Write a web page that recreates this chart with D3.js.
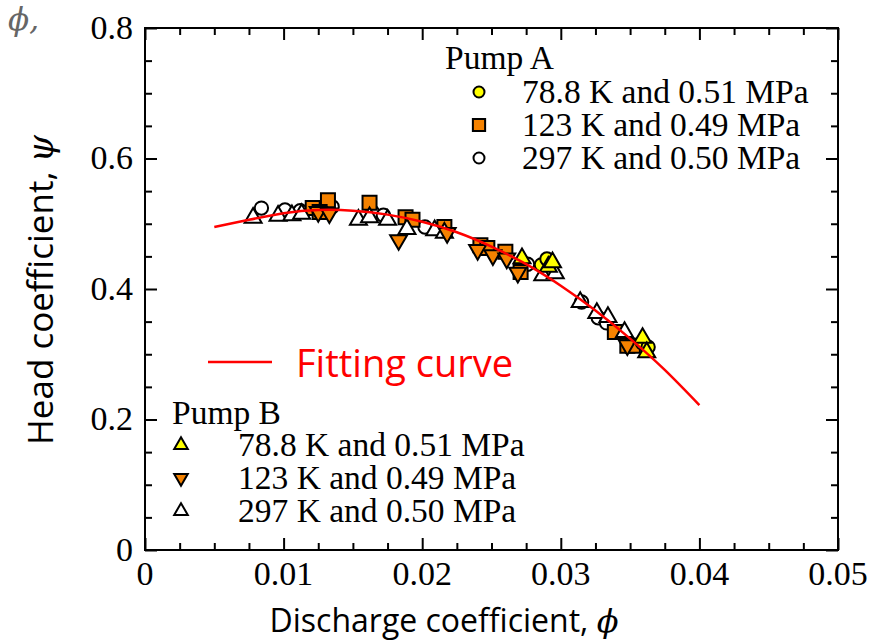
<!DOCTYPE html>
<html>
<head>
<meta charset="utf-8">
<script src="https://cdn.jsdelivr.net/npm/d3@7"></script>
<style>
  body { margin: 0; background: #fff; }
  .tick-label { font-family: "Liberation Serif", "DejaVu Serif", serif; font-size: 34px; fill: #000; }
  .legend-text { font-family: "Liberation Serif", "DejaVu Serif", serif; font-size: 33.5px; fill: #000; }
  .axis-title { font-family: "Open Sans", "Noto Sans", sans-serif; font-size: 32px; fill: #000; }
</style>
</head>
<body>
<div id="chart"></div>
<script>
// fitting curve
var fitPhi = [0.005, 0.0075, 0.01, 0.0125, 0.015, 0.0175, 0.02, 0.0225, 0.025, 0.0275, 0.03, 0.0325, 0.035, 0.0375, 0.04];
var fitPsi = [0.495, 0.506, 0.516, 0.521, 0.520, 0.514, 0.503, 0.487, 0.465, 0.438, 0.405, 0.367, 0.324, 0.276, 0.222];

// Pump A
var a78Phi = [0.0286, 0.0290, 0.0359, 0.0363];
var a78Psi = [0.437, 0.446, 0.317, 0.311];
var a123Phi = [0.0121, 0.0132, 0.0126, 0.0162, 0.0188, 0.0193, 0.0216, 0.0242, 0.0247, 0.0260, 0.0271, 0.0339, 0.0348, 0.0352];
var a123Psi = [0.524, 0.536, 0.518, 0.532, 0.510, 0.506, 0.495, 0.467, 0.463, 0.457, 0.426, 0.334, 0.313, 0.313];
var a297Phi = [0.0084, 0.0101, 0.0112, 0.0135, 0.0164, 0.0172, 0.0202, 0.0276, 0.0315, 0.0327, 0.0333];
var a297Psi = [0.524, 0.521, 0.520, 0.526, 0.518, 0.513, 0.495, 0.438, 0.380, 0.356, 0.348];

// Pump B
var b78Phi = [0.0272, 0.0291, 0.0294, 0.0359, 0.0362];
var b78Psi = [0.447, 0.434, 0.441, 0.325, 0.303];
var b123Phi = [0.0125, 0.0133, 0.0183, 0.0218, 0.0240, 0.0251, 0.0261, 0.0269, 0.0348];
var b123Psi = [0.518, 0.516, 0.475, 0.486, 0.460, 0.452, 0.447, 0.425, 0.314];
var b297Phi = [0.0078, 0.0096, 0.0106, 0.0113, 0.0154, 0.0162, 0.0175, 0.0189, 0.0209, 0.0216, 0.0287, 0.0296, 0.0314, 0.0326, 0.0334, 0.0346];
var b297Psi = [0.509, 0.512, 0.513, 0.515, 0.506, 0.510, 0.506, 0.492, 0.490, 0.486, 0.421, 0.424, 0.380, 0.363, 0.357, 0.334];

var xTicks = [0, 0.01, 0.02, 0.03, 0.04, 0.05];
var yTicks = [0, 0.2, 0.4, 0.6, 0.8];
var legendLabels = ["78.8 K and 0.51 MPa", "123 K and 0.49 MPa", "297 K and 0.50 MPa"];

var W = 892, H = 640;
var margin = {top: 28, right: 54, bottom: 90, left: 145},
    width = W - margin.left - margin.right,
    height = H - margin.top - margin.bottom;

var yellow = "#ffff00", orange = "#f58200";

var svg = d3.select("#chart").append("svg")
    .attr("width", W)
    .attr("height", H);

var g = svg.append("g")
    .attr("transform", "translate(" + margin.left + "," + margin.top + ")");

var x = d3.scaleLinear().domain([0, 0.05]).range([0, width]);
var y = d3.scaleLinear().domain([0, 0.8]).range([height, 0]);

// inward ticks on all four sides
var xMinor = d3.range(0, 0.0501, 0.0025);
var yMinor = d3.range(0, 0.801, 0.05);

g.append("g").attr("transform", "translate(0," + height + ")")
    .call(d3.axisTop(x).tickValues(xMinor).tickSize(0).tickFormat(""))
    .call(function(s) { s.select(".domain").remove(); })
    .selectAll(".tick line")
    .attr("y2", function(d) { return isMajor(d, 0.01) ? -12 : -7; })
    .attr("stroke", "#000").attr("stroke-width", 2);
g.append("g")
    .call(d3.axisBottom(x).tickValues(xMinor).tickSize(0).tickFormat(""))
    .call(function(s) { s.select(".domain").remove(); })
    .selectAll(".tick line")
    .attr("y2", function(d) { return isMajor(d, 0.01) ? 12 : 7; })
    .attr("stroke", "#000").attr("stroke-width", 2);
g.append("g")
    .call(d3.axisRight(y).tickValues(yMinor).tickSize(0).tickFormat(""))
    .call(function(s) { s.select(".domain").remove(); })
    .selectAll(".tick line")
    .attr("x2", function(d) { return isMajor(d, 0.2) ? 12 : 7; })
    .attr("stroke", "#000").attr("stroke-width", 2);
g.append("g").attr("transform", "translate(" + width + ",0)")
    .call(d3.axisLeft(y).tickValues(yMinor).tickSize(0).tickFormat(""))
    .call(function(s) { s.select(".domain").remove(); })
    .selectAll(".tick line")
    .attr("x2", function(d) { return isMajor(d, 0.2) ? -12 : -7; })
    .attr("stroke", "#000").attr("stroke-width", 2);

function isMajor(v, step) {
  var r = v / step;
  return Math.abs(r - Math.round(r)) < 1e-6;
}

g.append("rect")
    .attr("width", width).attr("height", height)
    .attr("fill", "none").attr("stroke", "#000").attr("stroke-width", 2);

// tick labels
g.selectAll(".xlab").data(xTicks).enter().append("text")
    .attr("class", "tick-label")
    .attr("x", function(d) { return x(d); })
    .attr("y", height + 35)
    .attr("text-anchor", "middle")
    .text(function(d) { return d === 0 ? "0" : d3.format(".2f")(d); });
g.selectAll(".ylab").data(yTicks).enter().append("text")
    .attr("class", "tick-label")
    .attr("x", -12)
    .attr("y", function(d) { return y(d); })
    .attr("dy", "0.32em")
    .attr("text-anchor", "end")
    .text(function(d) { return d === 0 ? "0" : d3.format(".1f")(d); });

// axis titles
var xt = svg.append("text").attr("class", "axis-title")
    .attr("x", 444).attr("y", 632).attr("text-anchor", "middle");
xt.append("tspan").text("Discharge coefficient, ");
xt.append("tspan").attr("font-style", "italic").attr("font-family", "DejaVu Serif, serif").text("\u03d5");

var yt = svg.append("text").attr("class", "axis-title")
    .attr("transform", "translate(53,290) rotate(-90)")
    .attr("text-anchor", "middle")
    .style("font-size", "35px");
yt.append("tspan").text("Head coefficient, ");
yt.append("tspan").attr("font-style", "italic").attr("font-family", "DejaVu Serif, serif").text("\u03c8");

svg.append("text")
    .attr("x", 8).attr("y", 30)
    .attr("font-family", "DejaVu Serif, serif")
    .attr("font-style", "italic")
    .attr("font-size", 31)
    .attr("fill", "#666")
    .text("\u03d5,");

// markers
function sym(type, size, rot) {
  return { path: d3.symbol().type(type).size(size)(), rot: rot || 0 };
}
var circ = sym(d3.symbolCircle, 140),
    sq = sym(d3.symbolSquare, 196),
    up = sym(d3.symbolTriangle, 125),
    down = sym(d3.symbolTriangle, 125, 180);

var series = [
  {phi: a297Phi, psi: a297Psi, s: circ, fill: "#fff"},
  {phi: a123Phi, psi: a123Psi, s: sq, fill: orange},
  {phi: b297Phi, psi: b297Psi, s: up, fill: "#fff"},
  {phi: b123Phi, psi: b123Psi, s: down, fill: orange},
  {phi: a78Phi, psi: a78Psi, s: circ, fill: yellow},
  {phi: b78Phi, psi: b78Psi, s: up, fill: yellow}
];

series.forEach(function(sr) {
  g.selectAll(null).data(sr.phi).enter().append("path")
      .attr("d", sr.s.path)
      .attr("transform", function(d, i) {
        return "translate(" + x(d) + "," + y(sr.psi[i]) + ") rotate(" + sr.s.rot + ")";
      })
      .attr("fill", sr.fill)
      .attr("stroke", "#000")
      .attr("stroke-width", 2);
});

// fitting curve
var line = d3.line()
    .x(function(d, i) { return x(fitPhi[i]); })
    .y(function(d) { return y(d); })
    .curve(d3.curveNatural);
g.append("path")
    .attr("d", line(fitPsi))
    .attr("fill", "none")
    .attr("stroke", "#ff0000")
    .attr("stroke-width", 2.5);

// legend: fitting curve
svg.append("line")
    .attr("x1", 208).attr("x2", 272).attr("y1", 362).attr("y2", 362)
    .attr("stroke", "#ff0000").attr("stroke-width", 2.5);
svg.append("text").attr("class", "axis-title")
    .attr("x", 296).attr("y", 377)
    .style("fill", "#ff0000")
    .style("font-size", "38px")
    .text("Fitting curve");

// legend: Pump A / Pump B
function legend(title, tx, ty, sx, textX, y0, syms, fills, lsize) {
  svg.append("text").attr("class", "legend-text")
      .attr("x", tx).attr("y", ty).text(title);
  legendLabels.forEach(function(lab, i) {
    var cy = y0 + i * 33;
    svg.append("path")
        .attr("d", d3.symbol().type(syms[i].type).size(lsize[i])())
        .attr("transform", "translate(" + sx + "," + cy + ") rotate(" + (syms[i].rot || 0) + ")")
        .attr("fill", fills[i]).attr("stroke", "#000").attr("stroke-width", 2);
    svg.append("text").attr("class", "legend-text")
        .attr("x", textX).attr("y", cy).attr("dy", "0.33em").text(lab);
  });
}
legend("Pump A", 445, 69, 479, 522, 92,
  [{type: d3.symbolCircle}, {type: d3.symbolSquare}, {type: d3.symbolCircle}],
  [yellow, orange, "#fff"], [95, 150, 95]);
legend("Pump B", 172, 424, 181, 238, 445,
  [{type: d3.symbolTriangle}, {type: d3.symbolTriangle, rot: 180}, {type: d3.symbolTriangle}],
  [yellow, orange, "#fff"], [80, 80, 80]);
</script>
</body>
</html>
